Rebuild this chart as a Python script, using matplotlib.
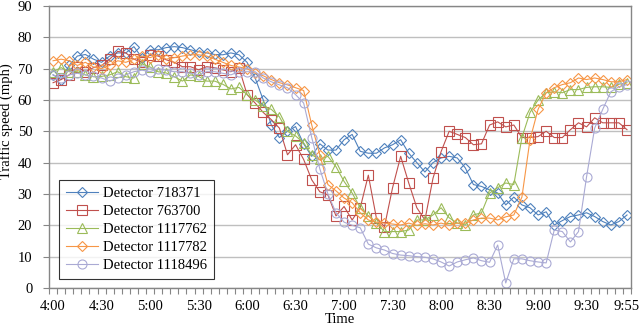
import numpy as np
import matplotlib
matplotlib.use("Agg")
import matplotlib.pyplot as plt

# 5-minute intervals, 4:00 .. 9:55
horarios = [f"{h}:{m:02d}" for h in range(4, 10) for m in range(0, 60, 5)]
rotulos_x = ["4:00", "4:30", "5:00", "5:30", "6:00", "6:30", "7:00",
             "7:30", "8:00", "8:30", "9:00", "9:30", "9:55"]

det_718371 = [68, 66.5, 71, 74, 74.5, 73, 72, 74, 75, 75, 77, 73.5,
              76, 76, 76.7, 77, 76.7, 76, 75.4, 75, 74.5, 74.4, 75, 74.4,
              72, 67, 60, 52, 48, 50, 51.5, 46, 42, 46, 44, 44,
              47.3, 49, 43.6, 43, 43, 44.7, 45.7, 47.3, 43, 40, 37, 40,
              41.5, 42, 41.5, 38.3, 33, 32.4, 31.3, 30.3, 26.5, 29, 26.5, 25.6,
              23.3, 24.3, 20.1, 21.5, 22.8, 23.3, 24, 22.8, 21.2, 20.1, 21.2, 23.3]

det_763700 = [65.5, 66.5, 68, 70.5, 69, 70.3, 71, 73, 75.5, 75, 73, 72,
              74.4, 74, 72.8, 72, 70.6, 70.6, 69.6, 70.6, 70.3, 69.6, 69, 70.3,
              61.7, 59, 56, 53.7, 51, 42.5, 45.7, 41, 34.5, 30.7, 29.7, 23,
              26, 21.7, 25.6, 36, 22.3, 19.6, 32, 42, 33.5, 25.6, 21.7, 35,
              43.5, 50, 49, 48, 45.7, 46, 52, 53, 51.4, 52, 48, 48,
              48.3, 50, 48, 48, 50.5, 52.7, 51.4, 54.3, 52.7, 52.7, 52.7, 50.5]

det_1117762 = [69, 70.3, 69, 69, 68, 67.4, 67.5, 68, 69, 67.4, 67, 71.5,
               70.5, 69, 68.6, 67.4, 66, 68, 67.5, 66, 66, 65, 63.5, 64,
               61.7, 60, 58, 57, 54.6, 50, 48.5, 46.3, 42.5, 41, 42, 38.7,
               34, 30.3, 25.6, 23, 20.7, 18, 18, 18, 18.5, 21.7, 21.7, 23.3,
               25.6, 22.4, 20.7, 20.1, 23.3, 24, 30.3, 32, 33.5, 33, 48, 56,
               60, 62.3, 62.6, 62.3, 63.3, 63.3, 64, 64.2, 64.2, 64, 65, 65.5]

det_1117782 = [72.5, 73, 72.5, 71, 72, 70.5, 70, 71, 72.5, 72, 73, 74,
               73.5, 74.4, 73, 73.5, 74, 74.4, 74.4, 74, 73, 72, 71, 70.5,
               70, 68.5, 67.7, 66.5, 65.5, 64.8, 63.9, 63, 52, 42.5, 33, 31,
               28.7, 27.2, 24, 21.7, 21, 20.7, 20.4, 20.1, 20.7, 20, 20.5, 20.1,
               20.7, 20, 20.7, 20.7, 21.7, 22.3, 22.3, 21.7, 22.7, 23.3, 29, 47.3,
               57, 62.3, 63.9, 64.9, 65.5, 67, 66.5, 67, 66.5, 65.8, 65.8, 66.5]

det_1118496 = [68, 67, 68, 68.5, 68, 67.5, 67, 66, 67, 68, 69, 69.5,
               69, 70, 69.5, 69, 69, 68.5, 68, 69, 69, 68.5, 68, 69,
               69, 69, 67, 65.8, 64.8, 63.9, 61.7, 59, 48, 38, 30, 24,
               21, 20, 19.2, 14, 12.8, 12.1, 11, 10.5, 10.3, 10, 9.8, 9.3,
               8.3, 7, 8.3, 9, 9.6, 8.7, 8.2, 13.7, 1.6, 9.3, 9.3, 8.7,
               8.3, 8, 18.5, 18, 14.7, 18, 35.5, 51, 57, 62.6, 64.2, 64.9]

series = [
    ("Detector 718371", det_718371, "#4F81BD", "D", 5.0),
    ("Detector 763700", det_763700, "#C0504D", "s", 6.5),
    ("Detector 1117762", det_1117762, "#9BBB59", "^", 6.5),
    ("Detector 1117782", det_1117782, "#F79646", "D", 5.0),
    ("Detector 1118496", det_1118496, "#AAAAD4", "o", 6.5),
]

plt.rcParams["font.family"] = ["Liberation Serif", "DejaVu Serif"]

x = np.arange(len(horarios))
fig, ax = plt.subplots(figsize=(6.4, 3.28), dpi=100)
fig.subplots_adjust(left=0.0766, right=0.986, top=0.982, bottom=0.122)

for nome, valores, cor, marcador, tam in series:
    ax.plot(x, valores, color=cor, linewidth=0.8, marker=marcador,
            markersize=tam, markerfacecolor="none", markeredgecolor=cor,
            markeredgewidth=0.8, label=nome)

ax.set_xlim(-0.5, len(horarios) - 0.5)
ax.set_ylim(0, 90)
ax.set_yticks(range(0, 91, 10))
ax.grid(axis="y", color="#BFBFBF", linewidth=1.0)
ax.set_axisbelow(True)

pos_rotulos = [horarios.index(r) for r in rotulos_x]
ax.set_xticks(pos_rotulos)
ax.set_xticklabels(rotulos_x)
ax.set_xticks(np.arange(-0.5, len(horarios)), minor=True)
ax.tick_params(axis="x", which="major", length=0, labelsize=10.5, pad=9)
ax.tick_params(axis="x", which="minor", length=4, color="#868686", width=0.8)
ax.tick_params(axis="y", length=4, color="#868686", width=0.8,
               labelsize=10.5, pad=8)

for lado in ["left", "bottom", "top", "right"]:
    ax.spines[lado].set_color("#868686")
    ax.spines[lado].set_linewidth(1.0)

ax.set_xlabel("Time", fontsize=10.5, labelpad=0)
ax.set_ylabel("Traffic speed (mph)", fontsize=10.5)
ax.yaxis.set_label_coords(-0.062, 0.59)

leg = ax.legend(loc="lower left", bbox_to_anchor=(0.017, 0.032), fontsize=10.5,
                frameon=True, fancybox=False, handlelength=2.2,
                borderpad=0.5, labelspacing=0.32, handletextpad=0.3,
                borderaxespad=0)
leg.get_frame().set_edgecolor("black")
leg.get_frame().set_linewidth(0.8)

fig.savefig("out.png", dpi=100)
plt.close(fig)
